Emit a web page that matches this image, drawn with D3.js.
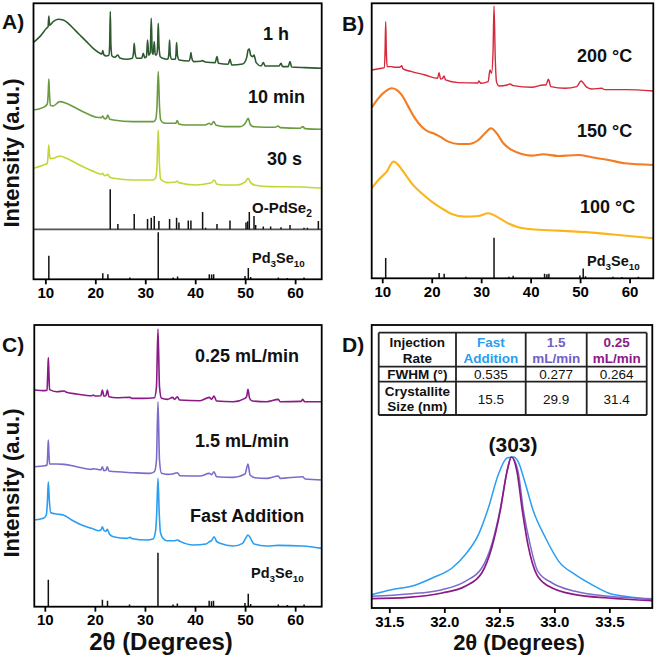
<!DOCTYPE html>
<html><head><meta charset="utf-8">
<script src="https://cdn.jsdelivr.net/npm/d3@7"></script>
<style>
html,body{margin:0;padding:0;background:#fff;}
svg{display:block;font-family:"Liberation Sans",Arial,Helvetica,sans-serif;}
</style></head><body>
<svg id="c" width="657" height="662"></svg>
<script>
// ---------------- DATA ----------------
// Panel A (2θ in degrees, intensity in a.u.)
const seriesA = ["1 h", "10 min", "30 s"];
const a1h = [[7.63,711],[8.9,728],[10.23,753],[10.55,758],[10.7,790],[10.85,762],[11.57,773],[12.57,780],[13.57,778],[14.57,768],[15.57,753],[16.91,733],[18.25,713],[19.58,693],[20.92,678],[21.3,676],[21.5,686],[21.7,674],[22.2,670],[22.7,672],[22.87,700],[23.0,803],[23.13,700],[23.35,670],[23.92,666],[24.52,673],[24.9,664],[26.26,660],[27.4,663],[27.65,680],[27.79,708],[27.95,680],[28.3,663],[29.3,663],[29.6,678],[29.9,665],[30.25,668],[30.46,718],[30.7,672],[31.0,680],[31.2,783],[31.4,680],[31.6,675],[31.8,713],[32.0,673],[32.3,675],[32.47,700],[32.6,768],[32.75,700],[33.0,668],[33.5,663],[34.5,660],[34.72,675],[34.87,718],[35.0,675],[35.3,660],[36.0,660],[36.15,675],[36.27,710],[36.45,672],[36.8,658],[38.7,655],[39.0,665],[39.14,680],[39.3,665],[39.7,653],[41.0,654],[41.48,656],[42.0,652],[44.0,650],[44.36,668],[44.65,648],[46.6,645],[46.96,660],[47.3,643],[49.5,646],[50.3,665],[50.6,688],[50.83,691],[51.1,672],[51.5,668],[51.77,673],[52.2,650],[53.2,640],[53.63,650],[54.0,640],[56.8,640],[57.17,648],[57.5,638],[58.6,638],[58.98,653],[59.3,637],[62.0,635],[65.32,633]];
const a10min = [[7.63,508],[9.5,515],[10.4,526],[10.58,560],[10.7,601],[10.82,560],[11.0,522],[11.57,520],[12.9,533],[14.2,528],[16.2,513],[18.2,498],[20.2,486],[21.2,485],[21.5,490],[21.8,482],[22.2,482],[22.5,493],[22.9,480],[23.6,478],[27.6,473],[31.6,473],[32.1,480],[32.35,520],[32.6,623],[32.85,520],[33.1,478],[33.6,470],[34.3,468],[36.1,468],[36.4,476],[36.7,466],[38.0,463],[42.0,463],[42.8,468],[43.2,464],[43.7,473],[44.2,462],[46.0,458],[49.0,458],[50.1,470],[50.6,483],[51.0,465],[51.6,458],[56.0,456],[56.6,460],[57.0,455],[61.0,453],[61.5,458],[62.0,452],[65.32,450]];
const a30s = [[7.63,333],[9.5,342],[10.4,348],[10.58,380],[10.7,403],[10.82,375],[11.0,362],[11.57,363],[12.9,370],[14.2,363],[16.2,348],[18.2,333],[20.2,320],[21.2,315],[21.5,318],[21.8,311],[22.2,312],[22.5,315],[22.9,306],[23.6,303],[27.6,298],[31.6,298],[32.1,305],[32.35,340],[32.6,448],[32.85,340],[33.1,300],[34.3,290],[36.1,292],[36.4,295],[36.7,290],[40.0,283],[42.8,288],[43.3,290],[43.8,298],[44.3,286],[45.5,283],[48.5,283],[50.0,292],[50.6,303],[51.1,290],[52.0,282],[55.0,278],[61.3,277],[65.32,273]];
// Reference patterns: [2θ, relative intensity]
const oPdSe2 = [[22.99,100],[24.52,13],[27.79,38],[30.46,26],[31.2,29],[31.8,33],[32.73,21],[34.87,26],[36.27,29],[36.74,17],[38.61,22],[39.14,22],[41.48,43],[42.08,4],[44.36,13],[46.96,22],[50.17,17],[50.5,20],[50.83,43],[51.77,33],[52.1,11],[53.63,7],[55.1,7],[57.17,5],[58.98,11],[61.78,4],[62.45,4],[64.65,21]];
const pd3se10 = [[10.7,50],[21.5,13],[22.52,11],[26.92,4],[32.6,100],[35.6,4],[36.47,6],[42.82,11],[43.29,10],[43.69,11],[49.97,7],[50.63,24],[51.1,5],[56.64,4],[58.44,3],[61.78,4]];

// Panel B
const seriesB = ["200 °C", "150 °C", "100 °C"];
const b200 = [[7.87,625],[9.89,630],[10.4,632],[10.57,680],[10.7,770],[10.83,680],[11.0,635],[11.91,635],[12.5,633],[13.6,633],[13.93,638],[14.2,628],[15.96,620],[18.65,610],[21.2,600],[21.48,617],[21.8,598],[22.2,600],[22.49,607],[22.8,595],[25.39,587],[29.3,586],[29.57,592],[29.9,585],[31.4,590],[31.79,625],[32.1,615],[32.4,680],[32.6,817],[32.85,660],[33.1,590],[33.6,577],[35.3,580],[35.83,583],[36.5,578],[40.21,573],[42.57,580],[43.1,580],[43.58,597],[44.1,575],[46.95,570],[49.3,575],[50.19,592],[51.2,575],[52.35,568],[54.37,570],[55.0,566],[59.09,566],[64.81,562]];
const b150 = [[7.87,512],[9.22,540],[10.57,560],[11.91,570],[12.92,565],[13.93,550],[15.28,515],[16.63,480],[17.98,455],[19.33,440],[20.34,435],[21.68,425],[23.37,410],[25.39,403],[27.41,403],[29.43,415],[30.78,435],[31.99,450],[33.14,435],[34.49,405],[36.17,385],[38.19,373],[40.21,368],[42.57,372],[45.6,367],[49.65,370],[52.35,363],[55.72,355],[59.09,345],[64.81,340]];
const b100 = [[7.87,270],[9.22,295],[10.9,320],[12.25,350],[12.92,345],[14.27,320],[15.96,285],[17.98,255],[20.0,230],[22.02,210],[24.04,193],[26.74,185],[29.43,187],[31.45,195],[33.14,185],[35.16,167],[37.52,153],[40.21,147],[45.6,143],[52.35,137],[57.74,130],[64.81,120]];

// Panel C
const seriesC = ["0.25 mL/min", "1.5 mL/min", "Fast Addition"];
const c025 = [[7.9,650],[10.03,648],[10.45,650],[10.58,700],[10.7,747],[10.82,700],[10.95,651],[12.36,645],[13.9,647],[14.3,643],[16.36,638],[19.4,633],[19.69,635],[20.0,632],[21.2,633],[21.49,650],[21.8,632],[22.2,633],[22.48,650],[22.8,630],[24.35,627],[27.01,628],[27.4,625],[29.67,625],[31.9,627],[32.3,660],[32.6,833],[32.9,660],[33.3,625],[34.5,622],[35.54,628],[35.9,622],[36.47,630],[36.9,620],[41.0,618],[42.86,628],[43.3,622],[43.79,632],[44.3,617],[47.65,615],[49.98,625],[50.3,630],[50.58,652],[50.9,625],[51.5,617],[54.31,615],[56.64,622],[57.0,615],[61.2,616],[61.5,622],[61.9,615],[65.3,615]];
const c15 = [[7.9,420],[10.03,423],[10.45,425],[10.58,460],[10.7,500],[10.82,460],[10.95,428],[12.36,428],[13.9,427],[16.36,420],[19.36,412],[19.69,414],[21.2,410],[21.49,420],[21.8,408],[22.2,409],[22.48,420],[22.8,407],[27.68,402],[31.0,400],[31.9,405],[32.3,440],[32.6,615],[32.9,440],[33.3,400],[34.5,397],[35.54,398],[36.47,402],[37.0,393],[41.0,392],[42.86,400],[43.3,396],[43.79,405],[44.3,390],[47.65,388],[49.98,398],[50.58,428],[51.0,395],[52.0,387],[54.31,385],[56.64,392],[57.0,385],[61.5,390],[62.0,383],[65.3,380]];
const cFast = [[7.9,260],[9.7,265],[10.3,275],[10.5,310],[10.7,375],[10.9,320],[11.2,282],[12.36,278],[13.7,275],[15.36,260],[17.36,245],[19.36,235],[20.69,228],[21.2,230],[21.49,240],[21.85,228],[22.2,226],[22.48,232],[22.9,218],[23.68,210],[26.35,205],[27.01,208],[27.5,204],[30.34,200],[31.6,203],[32.1,225],[32.35,280],[32.6,385],[32.85,280],[33.1,222],[33.6,205],[34.34,198],[36.0,198],[36.47,200],[37.0,196],[39.66,185],[42.2,188],[42.86,195],[43.3,198],[43.79,210],[44.3,196],[44.99,190],[47.65,182],[49.5,190],[50.1,205],[50.58,215],[51.1,205],[51.8,188],[54.31,182],[56.64,184],[61.5,182],[65.3,175]];

// Panel D: (303) reflection
const dFast = [[31.34,40],[31.52,55],[31.70,65],[31.89,90],[32.07,120],[32.19,160],[32.31,220],[32.40,300],[32.49,400],[32.57,450],[32.63,453],[32.67,440],[32.73,380],[32.81,290],[32.92,210],[33.04,140],[33.19,100],[33.34,70],[33.49,45],[33.64,35],[33.89,25]];
const d15 = [[31.34,35],[31.67,42],[31.98,55],[32.19,80],[32.34,120],[32.43,190],[32.51,300],[32.57,410],[32.61,453],[32.67,410],[32.72,290],[32.78,190],[32.85,110],[32.98,75],[33.19,50],[33.49,35],[33.89,28]];
const d025 = [[31.34,28],[31.67,32],[31.98,45],[32.19,65],[32.34,105],[32.43,180],[32.51,295],[32.57,410],[32.61,453],[32.66,410],[32.71,290],[32.76,190],[32.84,100],[32.95,65],[33.19,40],[33.49,30],[33.89,22]];

// Table
const tableHeader = [["Injection","Rate"],["Fast","Addition"],["1.5","mL/min"],["0.25","mL/min"]];
const fwhmRow = ["FWHM (°)","0.535","0.277","0.264"];
const sizeRow = [["Crystallite","Size (nm)"],"15.5","29.9","31.4"];

const ticksMain = [10,20,30,40,50,60];
const ticksD = [31.5,32.0,32.5,33.0,33.5];

// ---------------- COLORS ----------------
const col = {h1:"#2e5a30", m10:"#6a9b40", s30:"#c3d636", t200:"#d5283a", t150:"#f47b20", t100:"#fbb51a",
  r025:"#8a1a86", r15:"#7a6cc8", fast:"#2a9ef0"};
const FONT = "'Liberation Sans', Arial, Helvetica, sans-serif";

const svg = d3.select("#c");

function makePanel(p) {
  const g = svg.append("g");
  const x = d3.scaleLinear().domain(p.xDomain).range([p.left, p.right]);
  const y = d3.scaleLinear().domain([0, p.yMax]).range([p.bottom, p.top]);
  const clipId = "clip" + p.id;
  svg.append("clipPath").attr("id", clipId).append("rect")
    .attr("x", p.left).attr("y", p.top).attr("width", p.right - p.left).attr("height", p.bottom - p.top);
  const cg = g.append("g").attr("clip-path", `url(#${clipId})`);
  const line = d3.line().x(d => x(d[0])).y(d => y(d[1])).curve(d3.curveMonotoneX);
  (p.sticks || []).forEach(s => {
    if (s.baseLine) {
      cg.append("line").attr("x1", p.left).attr("x2", p.right).attr("y1", y(s.base)).attr("y2", y(s.base))
        .attr("stroke", "#555").attr("stroke-width", 1.8);
    }
    cg.selectAll(null).data(s.data).enter().append("line")
      .attr("x1", d => x(d[0])).attr("x2", d => x(d[0]))
      .attr("y1", y(s.base)).attr("y2", d => y(s.base + d[1] * s.k))
      .attr("stroke", "#111").attr("stroke-width", 1.5);
  });
  p.curves.forEach(c => {
    cg.append("path").attr("d", line(c.data)).attr("fill", "none")
      .attr("stroke", c.color).attr("stroke-width", c.w || 1.6).attr("stroke-linejoin", "round");
  });
  const ax = g.append("g").attr("transform", `translate(0,${p.bottom})`)
    .call(d3.axisBottom(x).tickValues(p.ticks).tickSize(5).tickPadding(3).tickFormat(p.fmt || d3.format("d")));
  ax.select(".domain").remove();
  ax.attr("font-family", FONT).attr("font-size", 15);
  ax.selectAll("line").attr("stroke", "#000").attr("stroke-width", 1.8);
  ax.selectAll("text").attr("font-weight", "bold").attr("fill", "#000");
  g.append("rect").attr("x", p.left).attr("y", p.top).attr("width", p.right - p.left).attr("height", p.bottom - p.top)
    .attr("fill", "none").attr("stroke", "#000").attr("stroke-width", 1.8);
  return {g, x, y};
}

function txt(x, y, s, size, opts = {}) {
  return svg.append("text").attr("x", x).attr("y", y).attr("font-size", size)
    .attr("font-weight", opts.weight || "bold").attr("fill", opts.fill || "#111")
    .attr("text-anchor", opts.anchor || "start").attr("font-family", FONT).text(s);
}
function subLabel(x, y, parts, size) {
  const t = svg.append("text").attr("x", x).attr("y", y).attr("font-size", size)
    .attr("font-weight", "bold").attr("fill", "#111").attr("font-family", FONT);
  let sub = false;
  parts.forEach(([s, isSub]) => {
    const ts = t.append("tspan").text(s);
    if (isSub && !sub) { ts.attr("dy", 4).attr("font-size", size * 0.68); sub = true; }
    else if (!isSub && sub) { ts.attr("dy", -4); sub = false; }
    else if (isSub) ts.attr("font-size", size * 0.68);
  });
  return t;
}
const pd3se10Parts = [["Pd",false],["3",true],["Se",false],["10",true]];

// ---------------- PANEL A ----------------
makePanel({id:"A", xDomain:[7.63,65.32], left:33.5, right:321.7, top:3.3, bottom:279.3, yMax:828, ticks:ticksMain,
  sticks:[{data:oPdSe2, base:150, k:1.2, baseLine:true},{data:pd3se10, base:0, k:1.41}],
  curves:[{data:a1h, color:col.h1},{data:a10min, color:col.m10},{data:a30s, color:col.s30}]});
txt(263, 40, seriesA[0], 18);
txt(248, 103, seriesA[1], 18);
txt(267, 165, seriesA[2], 18);
subLabel(252, 213, [["O-PdSe",false],["2",true]], 15);
subLabel(252, 263, pd3se10Parts, 14.5);

// ---------------- PANEL B ----------------
makePanel({id:"B", xDomain:[7.87,64.8], left:371.7, right:653.3, top:3.3, bottom:278.3, yMax:825, ticks:ticksMain,
  sticks:[{data:pd3se10, base:0, k:1.22}],
  curves:[{data:b200, color:col.t200, w:1.4},{data:b150, color:col.t150, w:2.1},{data:b100, color:col.t100, w:2.1}]});
txt(577, 62, seriesB[0], 18);
txt(577, 137, seriesB[1], 18);
txt(580, 213, seriesB[2], 18);
subLabel(587, 266, pd3se10Parts, 14.5);

// ---------------- PANEL C ----------------
makePanel({id:"C", xDomain:[7.9,65.3], left:34.3, right:321.7, top:325, bottom:606.7, yMax:845, ticks:ticksMain,
  sticks:[{data:pd3se10, base:0, k:1.62}],
  curves:[{data:c025, color:col.r025},{data:c15, color:col.r15},{data:cFast, color:col.fast}]});
txt(195, 362, seriesC[0], 18);
txt(195, 447, seriesC[1], 18);
txt(190, 522, seriesC[2], 18);
subLabel(251, 578, pd3se10Parts, 14.5);

// ---------------- PANEL D ----------------
makePanel({id:"D", xDomain:[31.34,33.89], left:371.7, right:652.3, top:325, bottom:608, yMax:849, ticks:ticksD,
  fmt:d3.format(".1f"),
  curves:[{data:dFast, color:col.fast, w:1.5},{data:d15, color:col.r15, w:1.5},{data:d025, color:col.r025, w:1.7}]});
txt(513, 452, "(303)", 21, {anchor:"middle"});

// table
const colX = [378.7, 456, 525.7, 586.7, 646.7];
const rowY = [332.7, 366.7, 381.7, 415];
const tg = svg.append("g");
const headColors = ["#111", col.fast, "#6f5fc4", col.r025];
tableHeader.forEach((lines, i) => {
  const cx = (colX[i] + colX[i + 1]) / 2;
  lines.forEach((s, j) => txt(cx, 347 + j * 15.5, s, 13.5, {anchor:"middle", fill:headColors[i]}));
});
fwhmRow.forEach((s, i) => {
  const cx = (colX[i] + colX[i + 1]) / 2;
  txt(cx, 378.7, s, 13.5, {anchor:"middle", weight: i === 0 ? "bold" : "normal"});
});
sizeRow.forEach((s, i) => {
  const cx = (colX[i] + colX[i + 1]) / 2;
  if (Array.isArray(s)) s.forEach((l, j) => txt(cx, 396 + j * 15, l, 13.5, {anchor:"middle"}));
  else txt(cx, 403.5, s, 13.5, {anchor:"middle", weight:"normal"});
});
colX.forEach(cx => tg.append("line").attr("x1", cx).attr("x2", cx).attr("y1", rowY[0]).attr("y2", rowY[3]).attr("stroke", "#222").attr("stroke-width", 1.8));
rowY.forEach(ry => tg.append("line").attr("x1", colX[0]).attr("x2", colX[4]).attr("y1", ry).attr("y2", ry).attr("stroke", "#222").attr("stroke-width", 1.8));

// ---------------- LABELS ----------------
txt(2, 29, "A)", 21);
txt(342, 31, "B)", 21);
txt(2, 352, "C)", 21);
txt(342, 352, "D)", 21);
svg.append("text").attr("transform", "translate(19,153) rotate(-90)").attr("text-anchor", "middle")
  .attr("font-size", 22).attr("font-weight", "bold").attr("fill", "#111").attr("font-family", FONT).text("Intensity (a.u.)");
svg.append("text").attr("transform", "translate(19,483) rotate(-90)").attr("text-anchor", "middle")
  .attr("font-size", 22).attr("font-weight", "bold").attr("fill", "#111").attr("font-family", FONT).text("Intensity (a.u.)");
txt(161, 650, "2θ (Degrees)", 24, {anchor:"middle"});
txt(519, 650, "2θ (Degrees)", 22, {anchor:"middle"});
</script>
</body></html>
